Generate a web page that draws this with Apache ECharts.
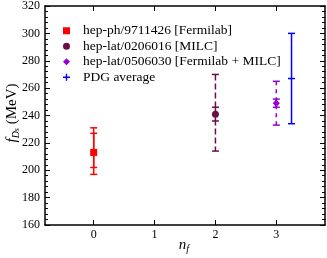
<!DOCTYPE html>
<html><head><meta charset="utf-8">
<script src="https://cdn.jsdelivr.net/npm/echarts@6/dist/echarts.min.js"></script>
<style>html,body{margin:0;padding:0;background:#fff}#c{width:327px;height:258px}</style>
</head><body><div id="c"></div>
<script>
const names = ['hep-ph/9711426 [Fermilab]', 'hep-lat/0206016 [MILC]', 'hep-lat/0506030 [Fermilab + MILC]', 'PDG average'];
const nf = [0, 2, 3, 3.25];
const central = [213, 241, 249, 267];
const statLow = [202, 236, 246, null];
const statHigh = [227, 246, 252, null];
const totLow = [197, 214, 233, 234];
const totHigh = [231, 270, 265, 300];
const colors = ['#ff0000', '#6b0f45', '#9400d3', '#0000ff'];
const dashes = [null, [6, 3], [4, 4], null];
const markers = ['rect', 'circle', 'diamond', 'plus'];
const xTicks = [0, 1, 2, 3];

const SERIF = '"Liberation Serif","Times New Roman",serif';
const plusPath = 'path://M4,0H6V4H10V6H6V10H4V6H0V4H4Z';

function render(i) {
  return function (params, api) {
    const x = api.value(0);
    const c = api.coord([x, api.value(1)]);
    const lo = api.coord([x, api.value(2)]);
    const hi = api.coord([x, api.value(3)]);
    const col = colors[i];
    const lw = 1.5, hw = 3.5;
    const st = { stroke: col, lineWidth: lw, fill: null };
    const ch = [];
    ch.push({ type: 'line', shape: { x1: c[0], y1: hi[1], x2: c[0], y2: lo[1] },
      style: Object.assign({}, st, dashes[i] ? { lineDash: dashes[i] } : {}) });
    const caps = [hi[1], lo[1]];
    const sl = api.value(4), sh = api.value(5);
    if (sl != null && !isNaN(sl)) {
      const a = api.coord([x, sl]), b = api.coord([x, sh]);
      caps.push(a[1], b[1]);
      ch.push({ type: 'line', shape: { x1: c[0], y1: b[1], x2: c[0], y2: a[1] }, style: st });
    }
    caps.forEach(y => ch.push({ type: 'line', shape: { x1: c[0] - hw, y1: y, x2: c[0] + hw, y2: y }, style: st }));
    const m = markers[i];
    if (m === 'rect') ch.push({ type: 'rect', shape: { x: c[0] - 3.5, y: c[1] - 3.5, width: 7, height: 7 }, style: { fill: col } });
    else if (m === 'circle') ch.push({ type: 'circle', shape: { cx: c[0], cy: c[1], r: 3.5 }, style: { fill: col } });
    else if (m === 'diamond') ch.push({ type: 'polygon', shape: { points: [[c[0], c[1] - 4], [c[0] + 3.5, c[1]], [c[0], c[1] + 4], [c[0] - 3.5, c[1]]] }, style: { fill: col } });
    else ch.push({ type: 'line', shape: { x1: c[0] - hw, y1: c[1], x2: c[0] + hw, y2: c[1] }, style: st });
    return { type: 'group', children: ch };
  };
}

const series = names.map((n, i) => ({
  name: n, type: 'custom', renderItem: render(i), itemStyle: { color: colors[i] },
  encode: { x: 0, y: 1 },
  data: [[nf[i], central[i], totLow[i], totHigh[i], statLow[i], statHigh[i]]]
}));

const axisLineStyle = { color: '#000', width: 1.5 };
const chart = echarts.init(document.getElementById('c'));
chart.setOption({
  animation: false,
  grid: { left: 45, right: 2, top: 5, bottom: 33 },
  xAxis: [
    { type: 'value', min: -0.8, max: 3.8, position: 'bottom',
      axisLine: { onZero: false, lineStyle: axisLineStyle }, splitLine: { show: false },
      axisTick: { inside: true, length: 5, customValues: xTicks, lineStyle: { color: '#000', width: 1 } },
      axisLabel: { customValues: xTicks, margin: 4, fontFamily: SERIF, fontSize: 12, color: '#000' } },
    { type: 'value', min: -0.8, max: 3.8, position: 'top',
      axisLine: { onZero: false, lineStyle: axisLineStyle }, splitLine: { show: false },
      axisTick: { inside: true, length: 5, customValues: xTicks, lineStyle: { color: '#000', width: 1 } },
      axisLabel: { show: false } }
  ],
  yAxis: [
    { type: 'value', min: 160, max: 320, interval: 20, position: 'left',
      axisLine: { show: true, onZero: false, lineStyle: axisLineStyle }, splitLine: { show: false },
      axisTick: { inside: true, length: 5, lineStyle: { color: '#000', width: 1 } },
      minorTick: { show: true, splitNumber: 5, length: 3, lineStyle: { color: '#000', width: 1 } },
      axisLabel: { margin: 5, fontFamily: SERIF, fontSize: 12, color: '#000' } },
    { type: 'value', min: 160, max: 320, interval: 20, position: 'right',
      axisLine: { show: true, onZero: false, lineStyle: axisLineStyle }, splitLine: { show: false },
      axisTick: { inside: true, length: 5, lineStyle: { color: '#000', width: 1 } },
      minorTick: { show: true, splitNumber: 5, length: 3, lineStyle: { color: '#000', width: 1 } },
      axisLabel: { show: false } }
  ],
  legend: {
    orient: 'vertical', left: 63, top: 23, padding: 0, itemGap: 0,
    itemWidth: 7, itemHeight: 7, selectedMode: false,
    data: names.map((n, i) => ({ name: n, icon: markers[i] === 'plus' ? plusPath : markers[i] })),
    textStyle: { fontFamily: SERIF, fontSize: 13.5, color: '#000', lineHeight: 15.5, padding: [0, 0, 0, 8] }
  },
  graphic: [
    { type: 'text', x: 12, y: 113, rotation: Math.PI / 2,
      style: { text: '{f|f}{d|D}{s|s}{m| (MeV)}', align: 'center', verticalAlign: 'middle',
        rich: { f: { fontFamily: SERIF, fontStyle: 'italic', fontSize: 15, fill: '#000' },
                d: { fontFamily: SERIF, fontStyle: 'italic', fontSize: 10, fill: '#000', verticalAlign: 'bottom', padding: [6, 0, 0, 0] },
                s: { fontFamily: SERIF, fontStyle: 'italic', fontSize: 8, fill: '#000', padding: [10, 0, 0, 0] },
                m: { fontFamily: SERIF, fontSize: 15, fill: '#000' } } } },
    { type: 'text', x: 184, y: 245,
      style: { text: '{n|n}{f|f}', align: 'center', verticalAlign: 'middle',
        rich: { n: { fontFamily: SERIF, fontStyle: 'italic', fontSize: 15, fill: '#000' },
                f: { fontFamily: SERIF, fontStyle: 'italic', fontSize: 10, fill: '#000', padding: [8, 0, 0, 0] } } } }
  ],
  series: series
});
</script></body></html>
